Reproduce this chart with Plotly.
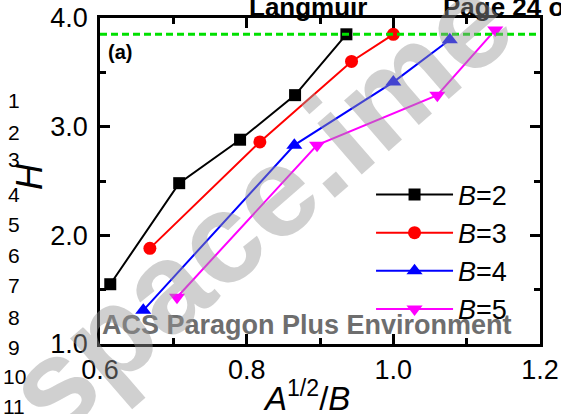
import plotly.graph_objects as go

# ---- data ----
x_b2 = [0.614, 0.708, 0.791, 0.866, 0.936]
y_b2 = [1.55, 2.48, 2.88, 3.29, 3.85]
x_b3 = [0.668, 0.818, 0.943, 1.000]
y_b3 = [1.88, 2.86, 3.60, 3.85]
x_b4 = [0.659, 0.865, 1.000, 1.077]
y_b4 = [1.31, 2.83, 3.41, 3.80]
x_b5 = [0.705, 0.896, 1.060, 1.139]
y_b5 = [1.43, 2.83, 3.29, 3.89]
h_limit = 3.85
series_names = ["<i>B</i>=2", "<i>B</i>=3", "<i>B</i>=4", "<i>B</i>=5"]
line_numbers = ["1", "2", "3", "4", "5", "6", "7", "8", "9", "10", "11"]
line_number_y = [101, 132, 160, 194, 224, 255, 285, 317, 347, 376, 406]

FONT = "Liberation Sans, Arial, sans-serif"
W, H = 561, 414
L, R, T, B = 100, 21, 18, 70
PW, PH = W - L - R, H - T - B

def px(xp):
    return (xp - L) / PW

def py(yp):
    return 1 - (yp - T) / PH

fig = go.Figure()
styles = [
    ("black", "square", 12),
    ("#ff0000", "circle", 13),
    ("#0000ff", "triangle-up", 14),
    ("#ff00ff", "triangle-down", 14),
]
for (xs, ys), name, (col, sym, sz) in zip(
    [(x_b2, y_b2), (x_b3, y_b3), (x_b4, y_b4), (x_b5, y_b5)], series_names, styles
):
    fig.add_trace(go.Scatter(
        x=xs, y=ys, name=name, mode="lines+markers",
        line=dict(color=col, width=2),
        marker=dict(symbol=sym, size=sz, color=col, line=dict(width=0)),
    ))

fig.add_shape(type="line", xref="paper", yref="y", x0=0, x1=1, y0=h_limit, y1=h_limit,
              line=dict(color="#00e000", width=3, dash="7px,4px"))

axis_common = dict(
    showgrid=False, zeroline=False, showline=True, linecolor="black", linewidth=2.5,
    mirror="ticks", ticks="inside", ticklen=10, tickwidth=2.5, tickcolor="black",
    tickfont=dict(family=FONT, size=27, color="black"),
)
fig.update_xaxes(range=[0.6, 1.2], tick0=0.6, dtick=0.2, tickformat=".1f", ticklabelstandoff=0,
                 minor=dict(ticks="inside", ticklen=6, tickwidth=2.5, dtick=0.1, tick0=0.6, tickcolor="black"),
                 **axis_common)
fig.update_yaxes(range=[1.0, 4.0], tick0=1.0, dtick=1.0, tickformat=".1f", ticklabelstandoff=4,
                 minor=dict(ticks="inside", ticklen=6, tickwidth=2.5, dtick=0.5, tick0=1.0, tickcolor="black"),
                 **axis_common)

ann = []
# axis titles
ann.append(dict(text="<i>A</i><sup>1/2</sup>/<i>B</i>", x=px(306), y=py(396), xref="paper", yref="paper",
                showarrow=False, font=dict(family=FONT, size=33, color="black"), xanchor="center", yanchor="middle"))
ann.append(dict(text="<i>H</i>", x=px(29), y=py(177), xref="paper", yref="paper", textangle=-90,
                showarrow=False, font=dict(family=FONT, size=36, color="black"), xanchor="center", yanchor="middle"))
# panel label
ann.append(dict(text="<b>(a)</b>", x=px(106), y=py(52), xref="paper", yref="paper", showarrow=False,
                font=dict(family=FONT, size=20, color="black"), xanchor="left", yanchor="middle"))
# header texts
ann.append(dict(text="<b>Langmuir</b>", x=px(247), y=py(7), xref="paper", yref="paper", showarrow=False,
                font=dict(family=FONT, size=26, color="black"), xanchor="left", yanchor="middle"))
ann.append(dict(text="<b>Page 24 of 35</b>", x=px(441), y=py(7), xref="paper", yref="paper", showarrow=False,
                font=dict(family=FONT, size=26, color="black"), xanchor="left", yanchor="middle"))
ann.append(dict(text="<b>ACS Paragon Plus Environment</b>", x=px(307), y=py(325), xref="paper", yref="paper",
                showarrow=False, font=dict(family=FONT, size=27, color="#6e6e6e"), xanchor="center", yanchor="middle"))
for t, yy in zip(line_numbers, line_number_y):
    ann.append(dict(text=t, x=px(14), y=py(yy), xref="paper", yref="paper", showarrow=False,
                    font=dict(family=FONT, size=21, color="black"), xanchor="center", yanchor="middle"))
# watermark
ann.append(dict(text="<b>space.ime</b>", x=px(258), y=py(205), xref="paper", yref="paper", textangle=-41,
                showarrow=False, font=dict(family=FONT, size=128, color="rgba(150,150,150,0.45)"),
                xanchor="center", yanchor="middle"))

fig.update_layout(
    width=W, height=H,
    margin=dict(l=L, r=R, t=T, b=B, autoexpand=False),
    paper_bgcolor="white", plot_bgcolor="white",
    font=dict(family=FONT, color="black"),
    annotations=ann,
    legend=dict(x=0.616, y=0.532, xanchor="left", yanchor="top", bgcolor="rgba(0,0,0,0)",
                font=dict(family=FONT, size=27, color="black"), itemwidth=77,
                tracegroupgap=0),
)

fig.write_html("out.html", config={"displayModeBar": False},
               post_script="document.body.style.margin='0';document.body.style.overflow='hidden';")
